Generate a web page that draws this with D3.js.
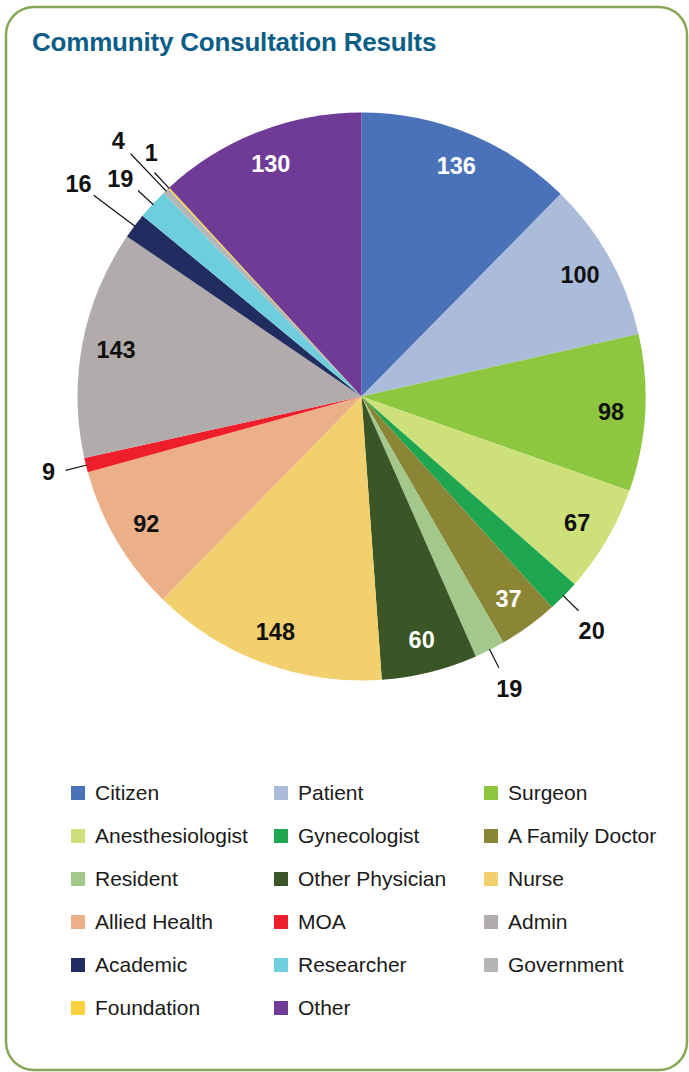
<!DOCTYPE html>
<html>
<head>
<meta charset="utf-8">
<script src="https://cdn.jsdelivr.net/npm/d3@7"></script>
<style>
  body { margin: 0; background: #fff; }
  svg { display: block; font-family: "Liberation Sans", Arial, Helvetica, sans-serif; }
</style>
</head>
<body>
<svg id="chart" width="689" height="1072"></svg>
<script>
// data
var categories = ['Citizen', 'Patient', 'Surgeon', 'Anesthesiologist', 'Gynecologist', 'A Family Doctor',
  'Resident', 'Other Physician', 'Nurse', 'Allied Health', 'MOA', 'Admin',
  'Academic', 'Researcher', 'Government', 'Foundation', 'Other'];
var values = [136, 100, 98, 67, 20, 37, 19, 60, 148, 92, 9, 143, 16, 19, 4, 1, 130];
var colors = ['#4a72b8', '#abbcdb', '#8dc63f', '#cde07a', '#1fa651', '#8b8635',
  '#a2c98b', '#3a5526', '#f3d06e', '#ebb088', '#ee1f2a', '#b1acab',
  '#212c60', '#6fcedd', '#b5b5b5', '#fdd23d', '#6f3b96'];
var title = 'Community Consultation Results';

// label styling / placement for the slices
var whiteLabels = ['Citizen', 'A Family Doctor', 'Other Physician', 'Other'];
var outside = {
  'Gynecologist': {line: 305, r: 328, da: 0.8},
  'Resident': {line: 304, r: 327, da: 0},
  'MOA': {line: 305, r: 322, da: 0.5},
  'Academic': {line: 335, r: 354, da: 0},
  'Researcher': {line: 304, r: 325, da: -0.6},
  'Government': {line: 335, r: 353, da: 0},
  'Foundation': {line: 305, r: 322, da: 2}
};

var svg = d3.select('#chart');

svg.append('rect')
  .attr('x', 6).attr('y', 7)
  .attr('width', 681).attr('height', 1063)
  .attr('rx', 28).attr('ry', 28)
  .attr('fill', '#fff')
  .attr('stroke', '#86a856')
  .attr('stroke-width', 2.5);

svg.append('text')
  .attr('x', 32).attr('y', 51)
  .attr('fill', '#0c5e87')
  .attr('font-size', 26)
  .attr('font-weight', 'bold')
  .attr('letter-spacing', -0.2)
  .text(title);

var cx = 361.5, cy = 396.5, R = 284;
var data = categories.map(function(c, i) { return {name: c, value: values[i], color: colors[i]}; });

var pie = d3.pie().value(function(d) { return d.value; }).sort(null);
var arc = d3.arc().innerRadius(0).outerRadius(R);
var arcs = pie(data);

var g = svg.append('g').attr('transform', 'translate(' + cx + ',' + cy + ')');

g.selectAll('path.slice')
  .data(arcs)
  .enter()
  .append('path')
  .attr('class', 'slice')
  .attr('d', arc)
  .attr('fill', function(d) { return d.data.color; });

function pt(a, r) { return [Math.sin(a) * r, -Math.cos(a) * r]; }

arcs.forEach(function(d) {
  var mid = (d.startAngle + d.endAngle) / 2;
  var o = outside[d.data.name];
  if (o) {
    var p0 = pt(mid, R - 1), p1 = pt(mid, o.line);
    g.append('line')
      .attr('x1', p0[0]).attr('y1', p0[1])
      .attr('x2', p1[0]).attr('y2', p1[1])
      .attr('stroke', '#111').attr('stroke-width', 1.2);
    var pl = pt(mid + o.da * Math.PI / 180, o.r);
    g.append('text')
      .attr('x', pl[0]).attr('y', pl[1])
      .attr('dy', '0.36em')
      .attr('text-anchor', 'middle')
      .attr('font-size', 23.5).attr('font-weight', 'bold')
      .attr('fill', '#111')
      .text(d.data.value);
  } else {
    var p = pt(mid, 250);
    g.append('text')
      .attr('x', p[0]).attr('y', p[1])
      .attr('dy', '0.36em')
      .attr('text-anchor', 'middle')
      .attr('font-size', 23.5).attr('font-weight', 'bold')
      .attr('fill', whiteLabels.indexOf(d.data.name) >= 0 ? '#fff' : '#111')
      .text(d.data.value);
  }
});

// legend, 3 columns
var colX = [71, 274, 484];
var rowY = d3.range(6).map(function(i) { return 793 + i * 43; });
var legend = svg.append('g');
data.forEach(function(d, i) {
  var x = colX[i % 3], y = rowY[Math.floor(i / 3)];
  legend.append('rect')
    .attr('x', x).attr('y', y - 7)
    .attr('width', 14).attr('height', 14)
    .attr('fill', d.color);
  legend.append('text')
    .attr('x', x + 24).attr('y', y)
    .attr('dy', '0.35em')
    .attr('font-size', 21)
    .attr('fill', '#1a1a1a')
    .text(d.name);
});
</script>
</body>
</html>
